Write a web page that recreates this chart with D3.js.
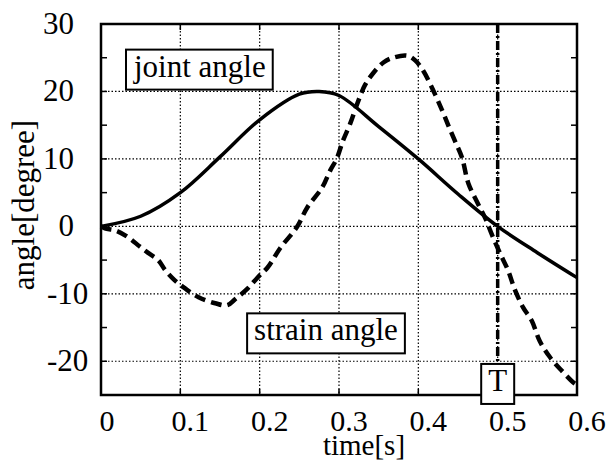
<!DOCTYPE html>
<html>
<head>
<meta charset="utf-8">
<script src="https://cdn.jsdelivr.net/npm/d3@7"></script>
<style>
  body { margin: 0; background: #fff; }
  svg { font-family: "Liberation Serif", "Times New Roman", serif; }
</style>
</head>
<body>
<svg id="chart" width="611" height="462"></svg>
<script>
// time axis ticks and angle axis ticks
const xTicks = [0, 0.1, 0.2, 0.3, 0.4, 0.5, 0.6];
const yTicks = [-20, -10, 0, 10, 20, 30];
const yMinor = [-15, -5, 5, 15, 25];

// joint angle (solid)
const jointT = [0, 0.05, 0.1, 0.15, 0.2, 0.25, 0.275, 0.3, 0.35, 0.4, 0.45, 0.5, 0.55, 0.6];
const jointV = [0, 1.5, 5, 10.3, 15.8, 19.6, 20.0, 19.4, 14.8, 10.0, 4.8, 0, -3.9, -7.6];

// strain angle (dashed)
const strainT = [0, 0.005, 0.018, 0.034, 0.049, 0.059, 0.072, 0.081, 0.093, 0.106, 0.123, 0.144, 0.159,
  0.169, 0.185, 0.198, 0.210, 0.226, 0.247, 0.260, 0.279, 0.289, 0.297, 0.305, 0.314, 0.324, 0.333,
  0.343, 0.356, 0.368, 0.386, 0.396, 0.406, 0.419, 0.430, 0.438, 0.446, 0.455, 0.463, 0.475, 0.484,
  0.493, 0.503, 0.513, 0.522, 0.532, 0.543, 0.553, 0.566, 0.580, 0.595, 0.600];
const strainV = [0, -0.3, -0.6, -1.6, -3.0, -3.9, -5.0, -6.5, -8.0, -9.2, -10.5, -11.4, -11.7,
  -10.8, -9.2, -7.5, -6.1, -3.2, -0.1, 2.8, 5.8, 8.3, 10.0, 12.7, 15.2, 18.5, 21.0,
  22.7, 24.3, 25.0, 25.3, 24.6, 23.1, 20.1, 17.2, 14.9, 12.7, 10.2, 6.4, 3.4, 1.3,
  -1.3, -4.0, -6.5, -9.5, -12.0, -14.0, -17.0, -19.4, -21.3, -23.1, -23.5];

const T = 0.5;

const svg = d3.select("#chart");
const x = d3.scaleLinear().domain([0, 0.6]).range([101, 577]);
const y = d3.scaleLinear().domain([-25, 30]).range([395, 24]);

// grid
const grid = svg.append("g")
  .attr("stroke", "#000")
  .attr("stroke-width", 1.2)
  .attr("stroke-dasharray", "1.5,2");
grid.selectAll(".gx")
  .data(xTicks.filter(d => d > 0 && d < 0.6))
  .enter().append("line")
  .attr("x1", d => x(d)).attr("x2", d => x(d))
  .attr("y1", y(30)).attr("y2", y(-25));
grid.selectAll(".gy")
  .data(yTicks.filter(d => d < 30))
  .enter().append("line")
  .attr("x1", x(0)).attr("x2", x(0.6))
  .attr("y1", d => y(d)).attr("y2", d => y(d));

// inner ticks on all four sides
const ticks = svg.append("g").attr("stroke", "#000").attr("stroke-width", 1.5);
[...yTicks, ...yMinor].forEach(v => {
  ticks.append("line").attr("x1", x(0)).attr("x2", x(0) + 6).attr("y1", y(v)).attr("y2", y(v));
  ticks.append("line").attr("x1", x(0.6)).attr("x2", x(0.6) - 6).attr("y1", y(v)).attr("y2", y(v));
});
xTicks.forEach(t => {
  ticks.append("line").attr("x1", x(t)).attr("x2", x(t)).attr("y1", y(-25)).attr("y2", y(-25) - 6);
  ticks.append("line").attr("x1", x(t)).attr("x2", x(t)).attr("y1", y(30)).attr("y2", y(30) + 6);
});

// curves
const line = d3.line().x(d => x(d[0])).y(d => y(d[1])).curve(d3.curveCatmullRom);

svg.append("path")
  .datum(jointT.map((t, i) => [t, jointV[i]]))
  .attr("d", line)
  .attr("fill", "none")
  .attr("stroke", "#000")
  .attr("stroke-width", 3.5);

svg.append("path")
  .datum(strainT.map((t, i) => [t, strainV[i]]))
  .attr("d", line)
  .attr("fill", "none")
  .attr("stroke", "#000")
  .attr("stroke-width", 4.5)
  .attr("stroke-dasharray", "11,6");

// T marker line
svg.append("line")
  .attr("x1", x(T)).attr("x2", x(T))
  .attr("y1", y(30)).attr("y2", y(-23.9))
  .attr("stroke", "#000")
  .attr("stroke-width", 3.5)
  .attr("stroke-dasharray", "9,3,2,3");

// frame
svg.append("rect")
  .attr("x", x(0)).attr("y", y(30))
  .attr("width", x(0.6) - x(0)).attr("height", y(-25) - y(30))
  .attr("fill", "none").attr("stroke", "#000").attr("stroke-width", 2.5);

// tick labels
svg.append("g").selectAll("text")
  .data(xTicks)
  .enter().append("text")
  .attr("x", d => x(d) + (d === 0 ? 6 : 10))
  .attr("y", 431)
  .attr("text-anchor", "middle")
  .attr("font-size", 30)
  .text(d => d3.format("")(d));

svg.append("g").selectAll("text")
  .data(yTicks)
  .enter().append("text")
  .attr("x", d => d < 0 ? 47 : 74)
  .attr("y", d => y(d) + 10)
  .attr("text-anchor", d => d < 0 ? "start" : "end")
  .attr("font-size", 31)
  .text(d => d);

// axis titles
svg.append("text")
  .attr("x", 364).attr("y", 455)
  .attr("text-anchor", "middle")
  .attr("font-size", 29)
  .text("time[s]");

svg.append("text")
  .attr("transform", "translate(34,205) rotate(-90)")
  .attr("text-anchor", "middle")
  .attr("font-size", 31)
  .text("angle[degree]");

// boxed labels
function boxed(tx, ty, label, anchor) {
  const g = svg.append("g");
  const txt = g.append("text")
    .attr("x", x(tx)).attr("y", y(ty))
    .attr("text-anchor", anchor)
    .attr("font-size", 31)
    .text(label);
  const b = txt.node().getBBox();
  g.insert("rect", "text")
    .attr("x", b.x - 7).attr("y", b.y + 1)
    .attr("width", b.width + 14).attr("height", b.height + 5)
    .attr("fill", "#fff").attr("stroke", "#000").attr("stroke-width", 2);
}
boxed(0.0416, 22.2, "joint angle", "start");
boxed(0.193, -16.9, "strain angle", "start");
boxed(T, -24.4, "T", "middle");
</script>
</body>
</html>
